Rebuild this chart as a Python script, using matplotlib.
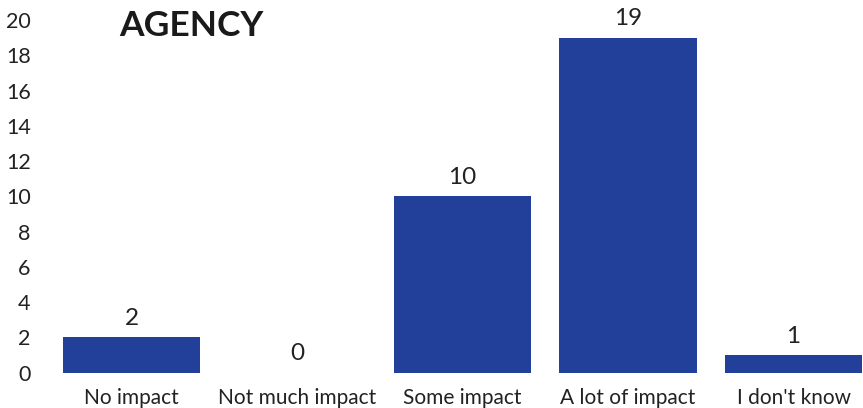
import matplotlib
matplotlib.use('Agg')
import matplotlib.pyplot as plt

# Survey responses
categories = ['No impact', 'Not much impact', 'Some impact', 'A lot of impact', "I don't know"]
counts = [2, 0, 10, 19, 1]
yticks = [0, 2, 4, 6, 8, 10, 12, 14, 16, 18, 20]

bar_color = '#22409A'
text_color = '#222222'

plt.rcParams['font.family'] = ['Lato', 'DejaVu Sans']

fig = plt.figure(figsize=(8.63, 4.08), dpi=100)
# axes runs a bit past the right edge so the last bar is clipped
ax = fig.add_axes([48.75 / 863, 35.3 / 408, 827.5 / 863, 352.6 / 408])

x = range(len(categories))
bars = ax.bar(x, counts, width=0.83, color=bar_color)

for xi, v in zip(x, counts):
    ax.annotate(str(v), (xi, v), xytext=(0, 6), textcoords='offset points',
                ha='center', va='bottom', fontsize=17.5, color=text_color)

ax.set_xlim(-0.5, 4.5)
ax.set_ylim(0, 20)
ax.set_yticks(yticks)
ax.set_xticks(list(x))
ax.set_xticklabels(categories)
ax.tick_params(axis='both', length=0, colors=text_color)
ax.tick_params(axis='x', labelsize=15, pad=11)
ax.tick_params(axis='y', labelsize=15.5, pad=13)
for s in ax.spines.values():
    s.set_visible(False)

fig.text(191 / 863, 1 - 26 / 408, 'AGENCY', ha='center', va='center',
         fontsize=25.5, fontweight='bold', color='#1a1a1a')

fig.savefig('out.png', dpi=100)
